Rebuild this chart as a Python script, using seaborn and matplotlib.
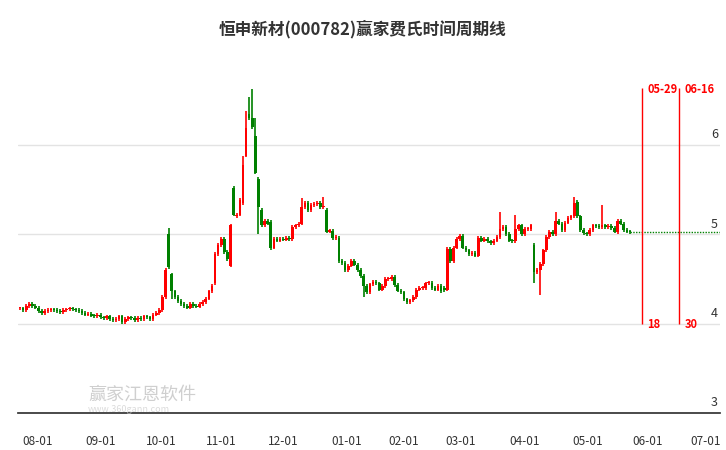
import numpy as np
import pandas as pd
import matplotlib
matplotlib.use("Agg")
import matplotlib.pyplot as plt
import seaborn as sns

TITLE = "恒申新材(000782)赢家费氏时间周期线"

# daily closes (left to right)
CLOSES = [
    4.17, 4.15, 4.2, 4.22, 4.2, 4.18, 4.14, 4.12, 4.14, 4.15, 4.16, 4.15, 4.14, 4.13,
    4.15, 4.16, 4.17, 4.16, 4.15, 4.14, 4.12, 4.1, 4.11, 4.09, 4.08, 4.1, 4.07, 4.06,
    4.08, 4.05, 4.04, 4.05, 4.08, 4.02, 4.05, 4.07, 4.06, 4.04, 4.06, 4.05, 4.08, 4.07,
    4.05, 4.1, 4.12, 4.15,
    4.3, 4.6, 4.63, 4.36,
    4.3, 4.25, 4.22, 4.2, 4.18, 4.22, 4.2, 4.19, 4.22, 4.24,
    4.28, 4.36, 4.42, 4.78, 4.88, 4.95, 4.8, 4.72,
    5.1, 5.22, 5.22, 5.38, 5.77, 6.19, 6.3, 6.2, 5.69, 5.3, 5.1, 5.15, 5.12, 4.85,
    4.95, 4.93, 4.95, 4.94, 4.96, 4.95, 5.08, 5.1, 5.12, 5.3, 5.35,
    5.27, 5.33, 5.34, 5.35, 5.3, 5.32, 5.03, 5.04, 4.96, 4.97,
    4.7, 4.68, 4.6, 4.65, 4.7, 4.66, 4.6, 4.53, 4.42, 4.35, 4.44, 4.47, 4.45,
    4.38, 4.42, 4.5, 4.5, 4.52, 4.43, 4.37, 4.35, 4.27, 4.24,
    4.26, 4.3, 4.38, 4.4, 4.4, 4.45, 4.46, 4.4, 4.38, 4.42, 4.36, 4.38, 4.84, 4.7,
    4.85, 4.95, 4.98, 4.85, 4.82, 4.78, 4.79, 4.76, 4.96, 4.93, 4.95, 4.92, 4.9,
    4.93, 4.97, 5.06, 5.08, 5.0, 4.93, 4.92, 5.06, 5.1, 5.0, 5.06, 5.06, 5.1,
    4.58, 4.6, 4.67, 4.82, 4.97, 5.03, 5.0, 5.15, 5.12, 5.05, 5.13, 5.18, 5.2, 5.35,
    5.2, 5.05, 5.01, 5.0, 5.05, 5.1, 5.09, 5.08, 5.1, 5.08, 5.09, 5.07, 5.03, 5.15,
    5.12, 5.05, 5.03, 5.02,
]
# opens that gap away from the previous close
OPEN_FIX = {46: 4.15, 48: 5.0, 49: 4.55, 63: 4.45, 68: 4.65, 69: 5.52, 70: 5.2,
            72: 5.35, 73: 5.88, 74: 6.35, 75: 6.3, 76: 6.1, 77: 5.62, 78: 5.27,
            81: 5.14, 99: 5.27, 103: 4.96, 137: 4.4, 166: 4.88, 179: 5.2, 180: 5.36,
            193: 5.02}
HIGH_FIX = {48: 5.07, 72: 5.88, 73: 6.38, 74: 6.54, 75: 6.63, 76: 6.3, 91: 5.4,
            98: 5.42, 155: 5.25, 160: 5.22, 173: 5.25, 179: 5.42, 188: 5.33}
LOW_FIX = {49: 4.28, 77: 5.0, 81: 4.82, 111: 4.3, 166: 4.45, 168: 4.32, 137: 4.35}

MONTHS = ["08-01", "09-01", "10-01", "11-01", "12-01", "01-01", "02-01",
          "03-01", "04-01", "05-01", "06-01", "07-01"]
MONTH_PX = [38, 101, 161, 221, 283, 347, 404, 461, 525, 588, 648, 706]

CYCLE_DATES = ["05-29", "06-16"]
CYCLE_DAYS = ["18", "30"]
CYCLE_PX = [642, 679]
LAST_PRICE = 5.03

n = len(CLOSES)
opens = [OPEN_FIX.get(i, CLOSES[i - 1] if i else CLOSES[0]) for i in range(n)]
df = pd.DataFrame({"idx": np.arange(n), "open": opens, "close": CLOSES})
df["high"] = [HIGH_FIX.get(i, max(o, c) + 0.02) for i, (o, c) in enumerate(zip(opens, CLOSES))]
df["low"] = [LOW_FIX.get(i, min(o, c) - 0.02) for i, (o, c) in enumerate(zip(opens, CLOSES))]
df["up"] = df["close"] >= df["open"]


def px(x):
    # horizontal pixel of the reference -> candle index
    return (x - 20) / 610 * (n - 1)


sns.set_theme(style="white", rc={"font.family": ["Noto Sans CJK SC", "DejaVu Sans"]})
fig = plt.figure(figsize=(7.26, 4.5), dpi=100)
ax = fig.add_axes([18 / 726, 37 / 450, 702 / 726, 363 / 450])

colors = np.where(df["up"], "#ff0000", "#008000")
ax.vlines(df["idx"], df["low"], df["high"], colors=colors, linewidth=1.2)
body = (df["close"] - df["open"]).abs().clip(lower=0.012)
ax.bar(df["idx"], body, bottom=df[["open", "close"]].min(axis=1), width=0.85,
       color=colors, linewidth=0)

tail = pd.DataFrame({"x": [n - 1, px(720)], "y": [LAST_PRICE, LAST_PRICE]})
sns.lineplot(data=tail, x="x", y="y", ax=ax, color="#008000", linewidth=1,
             linestyle=(0, (1, 1)))

for d, k, p in zip(CYCLE_DATES, CYCLE_DAYS, CYCLE_PX):
    ax.vlines(px(p), 4.0, 6.64, colors="#ff0000", linewidth=1)
    ax.text(px(p) + 1.8, 6.62, d, color="#ff0000", fontsize=8, fontweight="bold",
            va="center", ha="left")
    ax.text(px(p) + 1.8, 3.99, k, color="#ff0000", fontsize=8, fontweight="bold",
            va="center", ha="left")

ax.set_xlim(px(18), px(720))
ax.set_ylim(3, 4 + 274 / 89.5)
ax.set_yticks([3, 4, 5, 6])
ax.set_yticklabels([])
ax.tick_params(axis="y", length=0)
ax.grid(axis="y", color="#e3e3e3", linewidth=1)
for v in [3, 4, 5, 6]:
    ax.text(px(718), v + 0.04, str(v), ha="right", va="bottom", fontsize=9, color="#333333")

ax.set_xticks([px(p) for p in MONTH_PX])
ax.set_xticklabels(MONTHS, fontsize=8.5, color="#333333")
ax.tick_params(axis="x", length=4, color="#333333", pad=12)
ax.set_xlabel("")
ax.set_ylabel("")
for s in ["top", "left", "right"]:
    ax.spines[s].set_visible(False)
ax.spines["bottom"].set_color("#333333")

ax.text(px(88), 3.2, "赢家江恩软件", fontsize=13, color="#bbbbbb", alpha=0.7,
        va="center")
ax.text(px(88), 3.04, "www.360gann.com", fontsize=6.5, color="#cccccc", alpha=0.7,
        va="center")

fig.text(0.5, 0.935, TITLE, ha="center", va="center", fontsize=12,
         fontweight="bold", color="#333333")

fig.savefig("out.png", dpi=100)
